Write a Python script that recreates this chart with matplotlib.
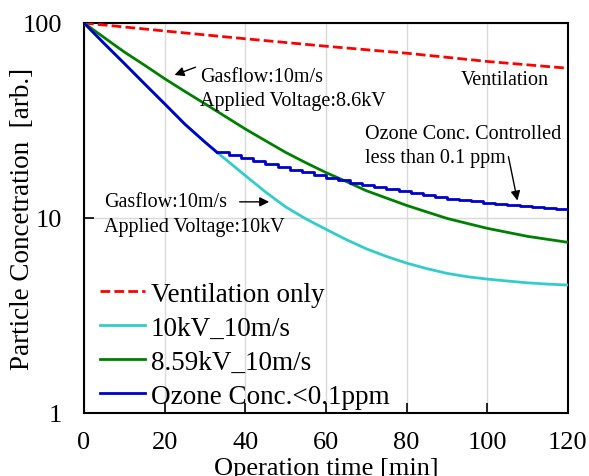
import matplotlib
matplotlib.use("Agg")
import matplotlib.pyplot as plt
import numpy as np

plt.rcParams['font.family'] = ['Liberation Serif', 'DejaVu Serif']
plt.rcParams['mathtext.fontset'] = 'stix'

# Ventilation only
t_vent = [0, 20, 40, 60, 80, 100, 120]
c_vent = [100, 91, 83, 76, 70, 63.5, 58.6]

# 10kV_10m/s
t_10kv = [0, 5, 10, 15, 20, 25, 30, 33, 36, 40, 45, 50, 55, 60, 65, 70, 75, 80,
          85, 90, 95, 100, 105, 110, 115, 120]
c_10kv = [100, 78.5, 62, 48.8, 38.5, 30.3, 24.5, 21.7, 19.3, 16.5, 13.6, 11.4,
          9.9, 8.75, 7.75, 6.95, 6.35, 5.87, 5.5, 5.2, 5.0, 4.86, 4.75, 4.65, 4.58, 4.53]

# 8.59kV_10m/s
t_859 = [0, 2.5, 5, 7.5, 10, 15, 20, 25, 30, 35, 40, 45, 50, 55, 60, 65, 70, 75, 80,
         85, 90, 95, 100, 105, 110, 115, 120]
c_859 = [100, 91.7, 84.2, 77.3, 71, 60.8, 51.8, 44.6, 38.5, 33.2, 28.6, 24.9, 21.7,
         19.2, 17.1, 15.4, 13.8, 12.65, 11.6, 10.74, 9.95, 9.38, 8.85, 8.44, 8.05, 7.77, 7.5]

# Ozone Conc.<0.1ppm : free decay then controlled staircase
t_ozone_a = [0, 5, 10, 15, 20, 25, 30, 33]
c_ozone_a = [100, 78.5, 62, 48.8, 38.5, 30.3, 24.5, 21.7]
t_ozone_b = [33, 36, 39, 42, 45, 48, 51, 54, 57, 60, 63, 66, 69, 72, 75, 78, 81,
             84, 87, 90, 93, 96, 99, 102, 105, 108, 111, 114, 117, 120]
c_ozone_b = [21.7, 21.0, 20.4, 19.7, 19.0, 18.3, 17.7, 17.2, 16.6, 16.1, 15.6,
             15.1, 14.7, 14.4, 14.1, 13.8, 13.5, 13.1, 12.8, 12.5, 12.3, 12.2,
             12.0, 11.8, 11.65, 11.5, 11.4, 11.25, 11.1, 11.0]

xticks = [0, 20, 40, 60, 80, 100, 120]
yticks = [1, 10, 100]
ytick_labels = ['1', '10', '100']

fig = plt.figure(figsize=(5.89, 4.77), dpi=100)
ax = fig.add_axes([0.1426, 0.1321, 0.8217, 0.8176])

ax.plot(t_vent, c_vent, color='#ff0000', lw=2, ls=(0, (3.5, 1.5)), label='Ventilation only', zorder=3)
ax.plot(t_10kv, c_10kv, color='#33cccc', lw=2, label='10kV_10m/s', zorder=3)
ax.plot(t_859, c_859, color='#008000', lw=2, label='8.59kV_10m/s', zorder=3)
ax.plot(t_ozone_b, c_ozone_b, color='#0000cc', lw=2, drawstyle='steps-post', zorder=4)
ax.plot(t_ozone_a, c_ozone_a, color='#0000cc', lw=2, label='Ozone Conc.<0.1ppm', zorder=4)

ax.set_yscale('log')
ax.set_xlim(0, 120)
ax.set_ylim(1, 100)
ax.set_xticks(xticks)
ax.set_yticks(yticks)
ax.set_yticklabels(ytick_labels)
ax.yaxis.set_minor_locator(matplotlib.ticker.NullLocator())
ax.tick_params(direction='in', length=7, width=1.2, labelsize=19)
ax.tick_params(axis='x', pad=13)
ax.tick_params(axis='y', pad=16)
ax.grid(True, color='#d9d9d9', lw=1)
ax.set_axisbelow(True)
for s in ax.spines.values():
    s.set_linewidth(1.5)

ax.set_ylabel('Particle Concetration  [arb.]', fontsize=19.5)
ax.yaxis.set_label_coords(-0.101, 0.5)
ax.set_xlabel('Operation time [min]', fontsize=19, labelpad=3)

leg = ax.legend(loc='lower left', bbox_to_anchor=(0.011, -0.017), frameon=False,
                fontsize=19.5, handlelength=1.67, handletextpad=0.2, labelspacing=0.33,
                borderaxespad=0.0)

fs = 14.5
ls_ = 1.38
arrow = dict(arrowstyle='-|>', color='black', lw=1, mutation_scale=14)
ax.annotate('', xy=(21.8, 53.5), xytext=(28.3, 60), arrowprops=arrow)
ax.text(28.8, 46, 'Gasflow:10m/s\nApplied Voltage:8.6kV', fontsize=fs,
        va='center', ha='left', linespacing=ls_)
ax.text(104.4, 51.3, 'Ventilation', fontsize=fs, ha='center', va='center')
ax.text(69.7, 23.6, 'Ozone Conc. Controlled\nless than 0.1 ppm', fontsize=fs,
        va='center', ha='left', linespacing=ls_)
ax.annotate('', xy=(107.6, 11.9), xytext=(105.1, 21.3), arrowprops=arrow)
ax.text(5, 10.5, 'Gasflow:10m/s\nApplied Voltage:10kV', fontsize=fs,
        va='center', ha='left', linespacing=ls_)
ax.annotate('', xy=(46.6, 12.1), xytext=(37.9, 12.1), arrowprops=arrow)

fig.savefig('out.png', dpi=100)
